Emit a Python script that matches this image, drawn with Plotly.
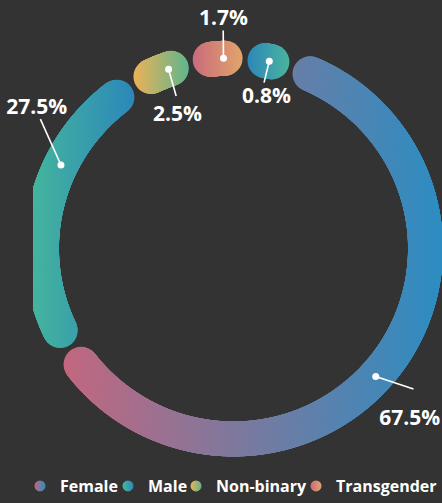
import math
import numpy as np
import plotly.graph_objects as go

# ---------------- data ----------------
categories = ["Female", "Male", "Non-binary", "Transgender", "Other"]
shares = [67.5, 27.5, 2.5, 1.7, 0.8]
label_texts = ["67.5%", "27.5%", "2.5%", "1.7%", "0.8%"]
in_legend = [True, True, True, True, False]

# ---------------- styles ----------------
color_left = ["#c2677f", "#46b89b", "#ecb257", "#c96b7c", "#2d86bb"]
color_right = ["#2b8dc2", "#2c87b9", "#5fb58e", "#e1a46c", "#4ab49c"]
anchor_shift = [-1.8, 6.5, 1.6, 1.2, 0.0]          # deg, dot position tweak
leader_end = [(229, -4.0), (233, 8.0), (164, -0.7), (220, 0.3), (170, -0.4)]
label_pos = [(247, 2.3), (242, 9.6), (145, -3.0), (231, 0.5), (156, 1.5)]
legend_symbol_px = [40, 128, 196, 316]              # legend symbol x (px)

BG = "#333333"
FONT = "Open Sans"
R_MID = 192.0
BAND = 35.0
PAD_DEG = 1.5
SMALL_FACTOR = 0.8
START_DEG = 17.5
W, H = 442, 503
CX, CY = 233.5, 250.5
CLIP_LEFT = 33

cap_deg = math.degrees(BAND / 2 / R_MID)
fixed = 2 * cap_deg + PAD_DEG


def footprints(k):
    return [max(k * p, SMALL_FACTOR * k * p + fixed) for p in shares]


lo, hi = 0.1, 3.6
for _ in range(80):
    mid = (lo + hi) / 2
    if sum(footprints(mid)) > 360:
        hi = mid
    else:
        lo = mid
k = (lo + hi) / 2
fp = footprints(k)


def hex2rgb(h):
    h = h.lstrip("#")
    return [int(h[i:i + 2], 16) for i in (0, 2, 4)]


def lerp(c1, c2, t):
    t = min(max(t, 0.0), 1.0)
    a, b = hex2rgb(c1), hex2rgb(c2)
    return "rgb(%d,%d,%d)" % tuple(round(a[i] + (b[i] - a[i]) * t) for i in range(3))


def to_xy(r, th):
    th = np.radians(np.asarray(th, dtype=float))
    r = np.asarray(r, dtype=float)
    return r * np.sin(th), r * np.cos(th)


fig = go.Figure()

slices = []
cum = START_DEG
for i, p in enumerate(shares):
    s = cum
    ls = s + PAD_DEG / 2 + cap_deg
    le = s + fp[i] - PAD_DEG / 2 - cap_deg
    dot = ls + k * p / 2 + anchor_shift[i]
    slices.append((ls, le, dot))
    cum += fp[i]

# legend entries (dummy points hidden under the ring)
li = 0
for i, name in enumerate(categories):
    if not in_legend[i]:
        continue
    x, y = to_xy([R_MID], [slices[i][2]])
    fig.add_trace(go.Scatter(
        x=x, y=y, mode="markers", name=name,
        legend="legend" if li == 0 else "legend%d" % (li + 1),
        marker=dict(size=11, color=color_left[i],
                    gradient=dict(type="horizontal", color=color_right[i]),
                    line=dict(width=0)),
        hoverinfo="skip", showlegend=True))
    li += 1

# ring segments
for i, p in enumerate(shares):
    ls, le, dot = slices[i]
    n = max(2, int(math.ceil((le - ls) / 0.2)) + 1)
    th = np.linspace(ls, le, n)
    xs, ys = to_xy(np.full(n, R_MID), th)
    xmin, xmax = xs.min() - BAND / 2, xs.max() + BAND / 2
    span = xmax - xmin
    cl = [lerp(color_left[i], color_right[i], (x - BAND / 2 - xmin) / span) for x in xs]
    cr = [lerp(color_left[i], color_right[i], (x + BAND / 2 - xmin) / span) for x in xs]
    fig.add_trace(go.Scatter(
        x=xs, y=ys, mode="markers", name=categories[i],
        marker=dict(size=BAND, color=cl,
                    gradient=dict(type="horizontal", color=cr),
                    line=dict(width=0)),
        hoverinfo="skip", showlegend=False, cliponaxis=True))

# leader lines, dots, labels
for i, p in enumerate(shares):
    dot = slices[i][2]
    er, ed = leader_end[i]
    lr, ld = label_pos[i]
    x, y = to_xy([R_MID, er], [dot, dot + ed])
    fig.add_trace(go.Scatter(
        x=x, y=y, mode="lines", line=dict(color="white", width=1.6),
        hoverinfo="skip", showlegend=False, cliponaxis=False))
    x, y = to_xy([R_MID], [dot])
    fig.add_trace(go.Scatter(
        x=x, y=y, mode="markers", marker=dict(size=7, color="white"),
        hoverinfo="skip", showlegend=False, cliponaxis=False))
    x, y = to_xy([lr], [dot + ld])
    fig.add_trace(go.Scatter(
        x=x, y=y, mode="text", text=[label_texts[i]],
        textposition="middle center",
        textfont=dict(family=FONT, size=21, color="white", weight=700),
        hoverinfo="skip", showlegend=False, cliponaxis=False))

legend_common = dict(orientation="h", xanchor="left",
                     y=(H - 490) / H, yanchor="middle",
                     font=dict(family=FONT, size=16, color="white", weight=700),
                     bgcolor="rgba(0,0,0,0)", borderwidth=0,
                     itemclick=False, itemdoubleclick=False)
legends = {}
for j, sx in enumerate(legend_symbol_px):
    key = "legend" if j == 0 else "legend%d" % (j + 1)
    legends[key] = dict(legend_common, x=(sx - 20) / W)

fig.update_layout(
    width=W, height=H,
    margin=dict(l=0, r=0, t=0, b=0),
    paper_bgcolor=BG, plot_bgcolor=BG,
    xaxis=dict(visible=False, domain=[CLIP_LEFT / W, 1],
               range=[CLIP_LEFT - CX, W - CX], fixedrange=True),
    yaxis=dict(visible=False, domain=[0, 1],
               range=[-(H - CY), CY], fixedrange=True),
    showlegend=True,
    **legends,
)

fig.write_html("out.html", config={"displayModeBar": False},
               post_script="document.body.style.margin='0';")
